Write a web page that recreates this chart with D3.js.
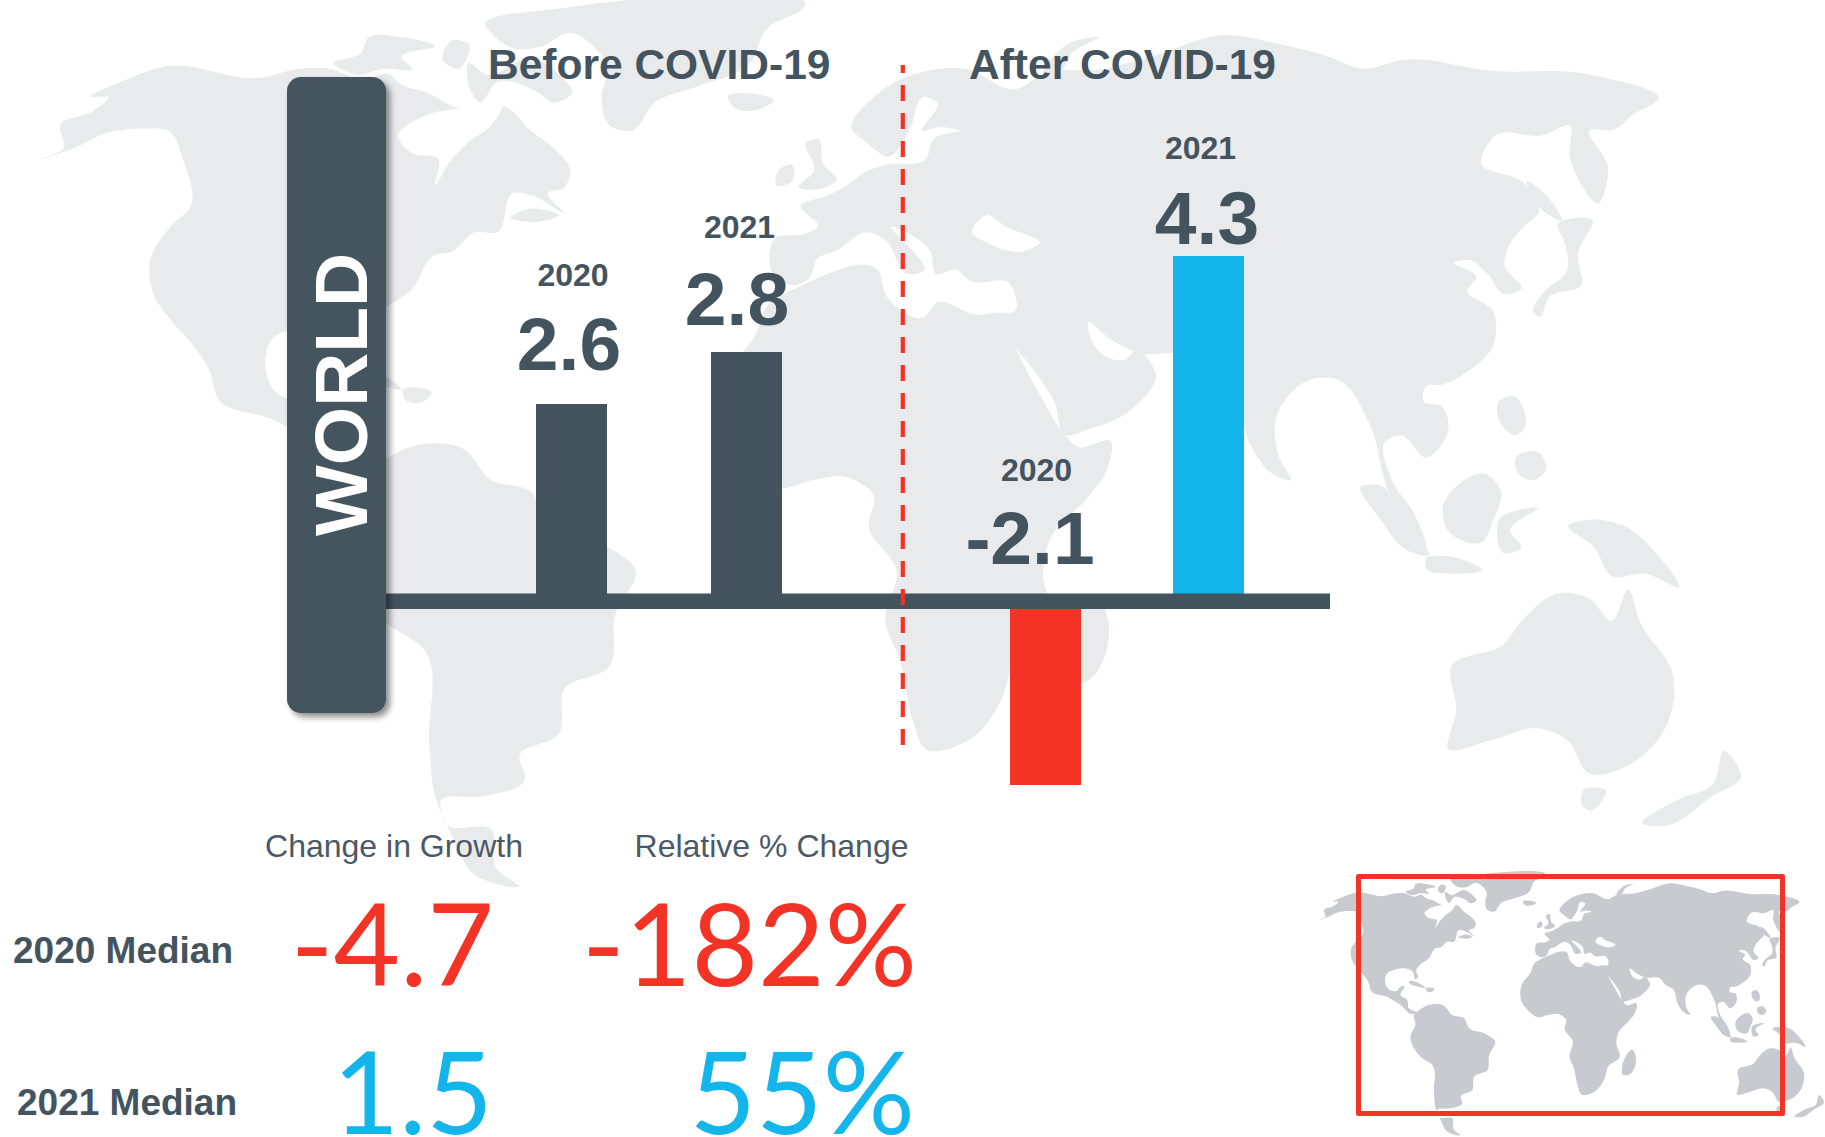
<!DOCTYPE html>
<html><head><meta charset="utf-8">
<script src="https://cdn.jsdelivr.net/npm/d3@7"></script>
<style>html,body{margin:0;padding:0;background:#fff}svg{display:block}text{font-family:"Liberation Sans",Arial,sans-serif}</style>
</head><body><div id="c"></div>
<script>
// ---- chart data ----
const barKeys = ["before2020","before2021","after2020","after2021"];
const barYears = ["2020","2021","2020","2021"];
const barValues = [2.6,2.8,-2.1,4.3];
const phases = ["Before COVID-19","After COVID-19"];
const regionName = "WORLD";
const tableColumns = ["Change in Growth","Relative % Change"];
const tableRows = ["2020 Median","2021 Median"];
const changeInGrowth = ["-4.7","1.5"];
const relativeChange = ["-182%","55%"];

// ---- map outlines (map grid units) ----
const land = [
 // North America
 [[55,180],[75,170],[72,150],[100,138],[115,125],[100,125],[130,110],[165,98],[250,108],[285,100],[312,100],[340,110],[365,105],[372,112],[400,122],[425,135],[470,135],[490,155],[510,170],[525,190],[520,205],[505,210],[520,228],[490,212],[475,210],[460,245],[440,245],[420,262],[405,265],[385,295],[355,318],[347,330],[352,352],[345,358],[337,335],[310,325],[280,330],[260,340],[255,370],[265,388],[290,392],[300,380],[312,378],[300,405],[320,420],[325,445],[350,458],[335,462],[300,435],[263,412],[212,392],[205,368],[190,345],[172,325],[155,300],[152,270],[170,240],[188,222],[182,183],[168,155],[145,153],[110,158],[85,170]],
 // Greenland
 [[450,62],[520,46],[727,50],[700,64],[685,95],[640,115],[600,130],[579,155],[560,150],[553,125],[558,100],[540,75],[525,68],[500,80],[475,82]],
 // Arctic islands
 [[315,95],[340,85],[345,73],[375,72],[405,80],[375,90],[385,100],[360,100],[335,105]],[[435,95],[450,105],[490,90],[520,110],[527,120],[510,130],[495,120],[460,112],[445,130],[435,115]],[[420,75],[435,78],[425,100],[412,92]],
 // Iceland
 [[665,125],[687,122],[706,128],[692,136],[672,135]],
 // Newfoundland, Cuba, Hispaniola
 [[472,232],[490,224],[515,230],[495,236]],[[325,365],[345,365],[375,385],[355,380],[330,372]],[[376,386],[402,388],[395,395],[378,393]],
 // South America
 [[350,455],[385,435],[430,437],[455,465],[490,475],[505,505],[550,520],[583,545],[565,585],[560,630],[520,650],[515,690],[480,710],[485,730],[450,745],[410,750],[415,770],[455,775],[460,810],[480,825],[440,815],[420,780],[405,745],[400,700],[395,615],[360,590],[330,530],[345,490],[340,465]],
 // Africa
 [[725,295],[800,281],[805,300],[840,320],[850,308],[885,318],[912,318],[918,340],[940,385],[965,425],[975,435],[1005,430],[1000,460],[985,480],[950,520],[945,550],[955,590],[920,620],[910,655],[880,695],[840,703],[830,680],[818,625],[805,590],[815,545],[790,505],[795,480],[770,462],[740,465],[710,472],[685,455],[660,420],[662,375],[690,335],[700,310]],
 // Eurasia
 [[725,292],[707,285],[707,250],[735,246],[745,240],[730,222],[755,212],[768,205],[790,190],[806,185],[841,180],[848,162],[871,155],[851,152],[838,155],[851,130],[840,125],[826,155],[806,178],[796,172],[788,165],[776,155],[801,120],[841,102],[876,100],[921,118],[945,105],[1000,100],[1045,88],[1105,70],[1155,78],[1195,88],[1230,100],[1265,92],[1345,102],[1430,105],[1491,128],[1470,140],[1452,154],[1431,154],[1447,188],[1439,219],[1413,178],[1413,150],[1389,159],[1347,159],[1334,183],[1373,202],[1385,228],[1372,240],[1360,255],[1355,275],[1370,295],[1355,300],[1340,282],[1325,270],[1310,272],[1330,285],[1322,296],[1345,315],[1345,345],[1320,370],[1300,380],[1285,382],[1283,395],[1300,400],[1305,420],[1285,445],[1262,425],[1250,430],[1255,465],[1275,495],[1285,525],[1268,510],[1250,470],[1235,415],[1205,375],[1185,375],[1152,410],[1155,445],[1165,465],[1150,460],[1130,435],[1112,385],[1092,375],[1075,355],[1030,352],[1005,340],[985,325],[987,338],[1000,355],[1018,358],[1028,350],[1045,370],[1020,405],[985,420],[965,425],[955,395],[935,365],[912,335],[905,318],[920,315],[915,290],[880,288],[868,278],[850,282],[845,262],[810,240],[838,280],[825,282],[805,252],[790,245],[760,262],[745,268],[738,285]],
 // UK, Ireland
 [[735,165],[745,162],[750,185],[762,198],[745,207],[728,205],[742,190]],[[710,190],[722,185],[722,200],[708,203]],
 // Arctic Russia
 [[947,105],[967,78],[995,72],[972,85],[957,105]],
 // Japan, Sakhalin
 [[1381,316],[1390,298],[1410,280],[1408,253],[1402,239],[1433,234],[1420,265],[1423,292],[1395,302],[1385,320]],[[1375,200],[1390,210],[1405,235],[1395,230],[1380,215]],
 // SE Asia
 [[1350,395],[1362,390],[1372,420],[1365,425],[1352,415]],[[1365,445],[1385,440],[1392,455],[1380,465],[1368,460]],[[1300,490],[1340,460],[1352,475],[1345,500],[1335,520],[1305,510]],[[1350,500],[1385,490],[1360,510],[1370,525],[1355,530]],[[1228,470],[1245,470],[1265,500],[1287,532],[1270,528],[1245,500]],[[1285,535],[1300,532],[1335,545],[1310,548],[1285,542]],
 // New Guinea
 [[1412,505],[1430,500],[1460,505],[1490,530],[1510,560],[1480,548],[1450,550],[1435,525]],
 // Australia, Tasmania, New Zealand
 [[1308,630],[1355,610],[1370,590],[1405,565],[1430,570],[1450,590],[1465,562],[1475,590],[1505,640],[1500,680],[1470,715],[1430,725],[1410,695],[1385,685],[1345,695],[1305,703],[1312,670]],[[1425,740],[1445,740],[1430,758],[1425,755]],[[1478,770],[1510,748],[1540,735],[1550,705],[1565,728],[1540,745],[1495,772]],
 // Madagascar
 [[995,570],[1003,590],[980,645],[965,645],[962,620]]
];
const water = [
 // Hudson Bay
 [[372,160],[395,142],[430,135],[465,133],[455,150],[435,165],[420,180],[405,203],[408,180],[385,175]],
 // Black Sea
 [[882,245],[895,230],[912,240],[942,255],[927,262],[897,255]]
];

// ---- layout ----
const W=1825,H=1137;
const ink="#44545F", red="#F23325", blue="#14B5EB";
const svg=d3.select("#c").append("svg").attr("width",W).attr("height",H).attr("viewBox",[0,0,W,H]);
const defs=svg.append("defs");
const f=defs.append("filter").attr("id","sh").attr("x","-20%").attr("y","-10%").attr("width","140%").attr("height","120%");
f.append("feDropShadow").attr("dx",4).attr("dy",4).attr("stdDeviation",3).attr("flood-color","#000").attr("flood-opacity",.45);

function drawMap(g,x,y,fill){
  const line=d3.line().x(d=>x(d[0])).y(d=>y(d[1])).curve(d3.curveCatmullRomClosed.alpha(1));
  g.selectAll("path.l").data(land).join("path").attr("class","l").attr("d",line).attr("fill",fill);
  g.selectAll("path.w").data(water).join("path").attr("class","w").attr("d",line).attr("fill","#fff");
}
// large background map
drawMap(svg.append("g"),
  d3.scaleLinear().domain([55,1478]).range([41,1643]),
  d3.scaleLinear().domain([180,770]).range([159,824]),"#E9EAEC");
// inset locator map
drawMap(svg.append("g"),
  d3.scaleLinear().domain([0,1568]).range([1300,1825]),
  d3.scaleLinear().domain([0,831]).range([860,1137]),"#C7CACF");
svg.append("rect").attr("x",1358.5).attr("y",876.5).attr("width",424).attr("height",237)
  .attr("fill","none").attr("stroke",red).attr("stroke-width",5).attr("stroke-linejoin","round");

// scales: the source's bars are hand-placed, so the value scale is piecewise
const xBar=d3.scaleOrdinal().domain(barKeys).range([571.5,746.5,1045.5,1208.5]);
const barW=71;
const yBar=d3.scaleLinear().domain([-2.1,0,2.6,2.8,4.3]).range([785,600,404,352,256]);
const barFill=[ink,ink,red,blue];
svg.append("g").selectAll("rect").data(barValues).join("rect")
  .attr("x",(d,i)=>xBar(barKeys[i])-barW/2).attr("width",barW)
  .attr("y",d=>Math.min(yBar(d),yBar(0))).attr("height",d=>Math.abs(yBar(d)-yBar(0)))
  .attr("fill",(d,i)=>barFill[i]);

// axis
svg.append("rect").attr("x",380).attr("y",593.5).attr("width",950).attr("height",15.5).attr("fill",ink);
// side panel
svg.append("rect").attr("x",287).attr("y",77).attr("width",99).attr("height",636).attr("rx",14).attr("fill",ink).attr("filter","url(#sh)");
svg.append("text").attr("transform","translate(367,536) rotate(-90)").attr("font-size",75).attr("font-weight",700).attr("fill","#fff").text(regionName);
// divider
svg.append("line").attr("x1",902.8).attr("x2",902.8).attr("y1",65).attr("y2",745).attr("stroke",red).attr("stroke-width",4.2).attr("stroke-dasharray","16 12").attr("stroke-dashoffset",8);

// text helper
function T(x,y,s,size,weight,fill,anchor){
  svg.append("text").attr("x",x).attr("y",y).attr("font-size",size).attr("font-weight",weight).attr("fill",fill).attr("text-anchor",anchor||"start").text(s);
}
T(488,79,phases[0],42.5,700,ink);
T(969,79,phases[1],42.5,700,ink);
const yearPos=[[573,285.5],[739.5,238],[1036.5,481],[1200.5,159]];
const valPos=[[569,369.5],[737,324.5],[1030,564],[1207,243.5]];
barValues.forEach((v,i)=>{
  T(yearPos[i][0],yearPos[i][1],barYears[i],32,700,ink,"middle");
  T(valPos[i][0],valPos[i][1],String(v),75,700,ink,"middle");
});
T(394,857,tableColumns[0],32,400,"#4A5965","middle");
T(771.5,857,tableColumns[1],32,400,"#4A5965","middle");
T(13,963,tableRows[0],37,700,ink);
T(17,1115,tableRows[1],37,700,ink);
const big='"Lato","Carlito",sans-serif';
[[494,986,changeInGrowth[0],red],[917,986,relativeChange[0],red],[493,1134,changeInGrowth[1],blue],[915,1134,relativeChange[1],blue]].forEach(r=>{
  svg.append("text").attr("x",r[0]).attr("y",r[1]).attr("text-anchor","end").attr("font-size",115).attr("fill",r[3]).style("font-family",big).text(r[2]);
});
</script></body></html>
